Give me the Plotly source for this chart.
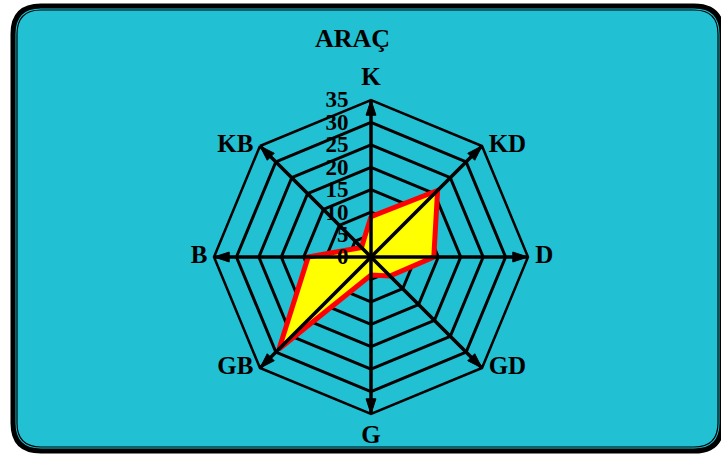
import plotly.graph_objects as go

# Wind-direction sectors (Turkish compass abbreviations), clockwise from north
directions = ["K", "KD", "D", "GD", "G", "GB", "B", "KB"]
# Share of traffic ("ARAÇ") coming from each direction
arac_values = [9, 21, 14, 6, 4, 29, 14, 3]
radial_ticks = [0, 5, 10, 15, 20, 25, 30, 35]
radial_max = 35

W, H = 721, 456
CYAN = "#21C0D3"
SERIF = "Liberation Serif"

fig = go.Figure()

# Filled data polygon
fig.add_trace(go.Scatterpolar(
    r=arac_values + arac_values[:1],
    theta=directions + directions[:1],
    mode="lines",
    fill="toself",
    fillcolor="#FFFF00",
    line=dict(color="#FF0000", width=5),
    hoverinfo="skip",
))

# Axis spokes from the centre to each direction
for d in directions:
    fig.add_trace(go.Scatterpolar(
        r=[0, radial_max],
        theta=[d, d],
        mode="lines",
        line=dict(color="black", width=3.5),
        hoverinfo="skip",
    ))

# Direction names just outside each spoke tip; an invisible marker sets the gap
label_pos = {
    "K": "top center", "KD": "middle right", "D": "middle right",
    "GD": "middle right", "G": "bottom center", "GB": "middle left",
    "B": "middle left", "KB": "middle left",
}
label_gap = {"K": 12, "KD": 9, "D": 10, "GD": 9, "G": 14, "GB": 9, "B": 9, "KB": 9}
fig.add_trace(go.Scatterpolar(
    r=[radial_max] * len(directions),
    theta=directions,
    mode="markers+text",
    text=directions,
    textposition=[label_pos[d] for d in directions],
    textfont=dict(family=SERIF, size=25, color="black", weight="bold"),
    marker=dict(size=[label_gap[d] for d in directions],
                color="rgba(0,0,0,0)", line=dict(width=0)),
    cliponaxis=False,
    hoverinfo="skip",
))

# Arrowheads at the spoke tips, pointing outward
fig.add_trace(go.Scatterpolar(
    r=[radial_max] * len(directions),
    theta=directions,
    mode="markers",
    marker=dict(symbol="arrow", size=16, color="black",
                line=dict(color="black", width=1),
                angle=[i * 360 / len(directions) for i in range(len(directions))]),
    cliponaxis=False,
    hoverinfo="skip",
))

cx, cy, R = 371, 257, 157
fig.update_layout(
    width=W, height=H,
    margin=dict(l=0, r=0, t=0, b=0),
    paper_bgcolor="white",
    showlegend=False,
    polar=dict(
        domain=dict(x=[(cx - R) / W, (cx + R) / W],
                    y=[(H - cy - R) / H, (H - cy + R) / H]),
        bgcolor="rgba(0,0,0,0)",
        gridshape="linear",
        hole=0,
        radialaxis=dict(
            range=[0, radial_max],
            tickvals=radial_ticks,
            angle=90,
            side="counterclockwise",
            tickangle=90,
            ticks="outside",
            ticklen=14,
            tickcolor="rgba(0,0,0,0)",
            showline=False,
            gridcolor="black",
            gridwidth=2.5,
            tickfont=dict(family=SERIF, size=23, color="black", weight="bold"),
        ),
        angularaxis=dict(
            type="category",
            categoryorder="array",
            categoryarray=directions,
            direction="clockwise",
            rotation=90,
            ticks="",
            showticklabels=False,
            showgrid=False,
            showline=True,
            linecolor="black",
            linewidth=2.5,
        ),
    ),
)

# Rounded frame behind the chart
def rounded_rect(x0, y0, x1, y1, rad):
    def px(x):
        return x / W

    def py(y):
        return 1 - y / H

    return (
        f"M {px(x0 + rad)},{py(y0)} L {px(x1 - rad)},{py(y0)} "
        f"Q {px(x1)},{py(y0)} {px(x1)},{py(y0 + rad)} "
        f"L {px(x1)},{py(y1 - rad)} Q {px(x1)},{py(y1)} {px(x1 - rad)},{py(y1)} "
        f"L {px(x0 + rad)},{py(y1)} Q {px(x0)},{py(y1)} {px(x0)},{py(y1 - rad)} "
        f"L {px(x0)},{py(y0 + rad)} Q {px(x0)},{py(y0)} {px(x0 + rad)},{py(y0)} Z"
    )

fig.add_shape(type="path", xref="paper", yref="paper", layer="below",
              path=rounded_rect(13, 6, 722, 451, 28),
              fillcolor=CYAN, line=dict(color="black", width=5))
fig.add_shape(type="path", xref="paper", yref="paper", layer="below",
              path=rounded_rect(17, 10, 718, 447, 24),
              fillcolor="rgba(0,0,0,0)", line=dict(color="black", width=1.2))

fig.add_annotation(
    text="ARAÇ", xref="paper", yref="paper",
    x=352 / W, y=1 - 38 / H, showarrow=False,
    xanchor="center", yanchor="middle",
    font=dict(family=SERIF, size=26, color="black", weight="bold"),
)

fig.write_html("out.html")
